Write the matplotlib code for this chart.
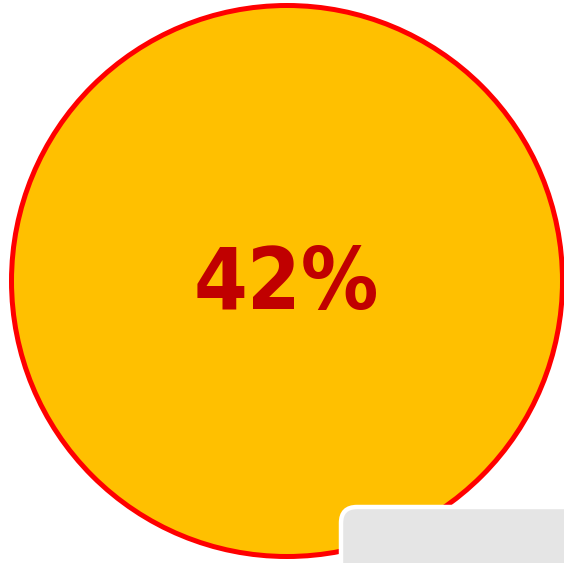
import matplotlib.pyplot as plt
from matplotlib.patches import Circle, FancyBboxPatch
from matplotlib import font_manager

# Value shown in the badge
value = 42
label = f"{value}%"

names = sorted({f.name for f in font_manager.fontManager.ttflist})
print(names)
cond = [f.name for f in font_manager.fontManager.ttflist if 'ondensed' in f.fname or 'arrow' in f.fname]
print(cond)

fig = plt.figure(figsize=(5.64, 5.63), dpi=100)
ax = fig.add_axes([0, 0, 1, 1])
ax.set_xlim(0, 564)
ax.set_ylim(563, 0)
ax.set_axis_off()

# Big circle
ax.add_patch(Circle((287, 281), 275.5, facecolor='#ffc000', edgecolor='#ff0000',
                    linewidth=3.6))

# Label in the middle
ax.text(286, 285, label, ha='center', va='center', color='#c00000',
        fontsize=62, fontweight='heavy', fontstretch='condensed',
        family=['DejaVu Sans Condensed', 'DejaVu Sans'])

# Grey panel poking in at the bottom right
ax.add_patch(FancyBboxPatch((341, 507), 300, 100,
                            boxstyle='round,pad=0,rounding_size=16',
                            facecolor='#e5e5e5', edgecolor='white', linewidth=3.2))

fig.savefig('out.png', dpi=100)
